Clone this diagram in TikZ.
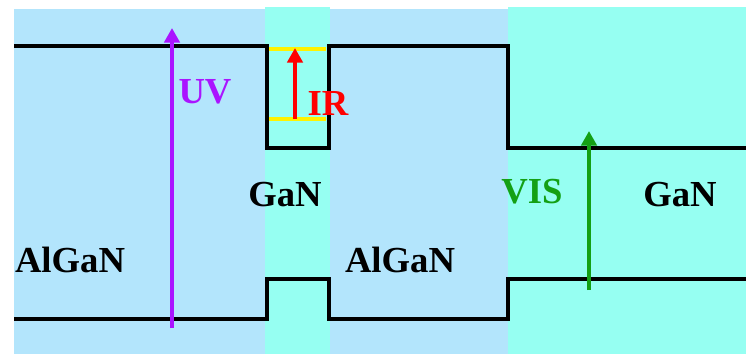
\documentclass[tikz,border=0pt]{standalone}
\usepackage{fontspec}
\setmainfont{Liberation Serif}
\usetikzlibrary{arrows.meta}
\usetikzlibrary{positioning}

\definecolor{alganbg}{RGB}{179,229,252}
\definecolor{ganbg}{RGB}{150,255,242}
\definecolor{uvcol}{RGB}{170,20,255}
\definecolor{viscol}{RGB}{20,160,20}

\begin{document}
\begin{tikzpicture}[x=0.75pt, y=-0.75pt]
		\tikzstyle{band}=[line width=3pt, black]
		\tikzstyle{level}=[line width=2.6pt, yellow]
		\tikzstyle{photon}=[line width=3.6pt, -{Triangle[length=11pt,width=11.5pt]}]
		\tikzstyle{every node}=[font=\fontsize{27.5}{30}\selectfont\bfseries, inner sep=0pt]

		\useasboundingbox (0,0) rectangle (746,354);

    % Layers
		\fill[alganbg] (14,9) rectangle (508,354);
		\fill[ganbg] (265,7) rectangle (330,354);
		\fill[ganbg] (508,7) rectangle (746,354);

    % Conduction band
		\draw[band] (14,46) -- (267,46) -- (267,148) -- (329,148) -- (329,46)
			-- (508,46) -- (508,148) -- (746,148);
    % Valence band
		\draw[band] (14,319) -- (267,319) -- (267,279) -- (329,279) -- (329,319)
			-- (508,319) -- (508,279) -- (746,279);

    % Quantum well levels
		\draw[level] (269,49) -- (326,49);
		\draw[level] (269,119) -- (326,119);

    % Transitions
		\coordinate (uv0) at (172,328);
		\coordinate (uv1) at (172,28);
		\coordinate (ir0) at (295,119);
		\coordinate (ir1) at (295,48);
		\coordinate (vis0) at (589,290);
		\coordinate (vis1) at (589,131);

		\draw[photon, uvcol] (uv0) -- (uv1);
		\draw[photon, red, line width=3.2pt] (ir0) -- (ir1);
		\draw[photon, viscol] (vis0) -- (vis1);

    % Labels
		\node[uvcol](uv) at (205,92){UV};
		\node[red](ir) at (328,103){IR};
		\node[viscol](vis) at (532,192){VIS};
		\node(well) at (285,195){GaN};
		\node(bulk) at (680,195){GaN};
		\node(barl) at (70,260){AlGaN};
		\node(barr) at (400,260){AlGaN};

  \end{tikzpicture}
\end{document}
